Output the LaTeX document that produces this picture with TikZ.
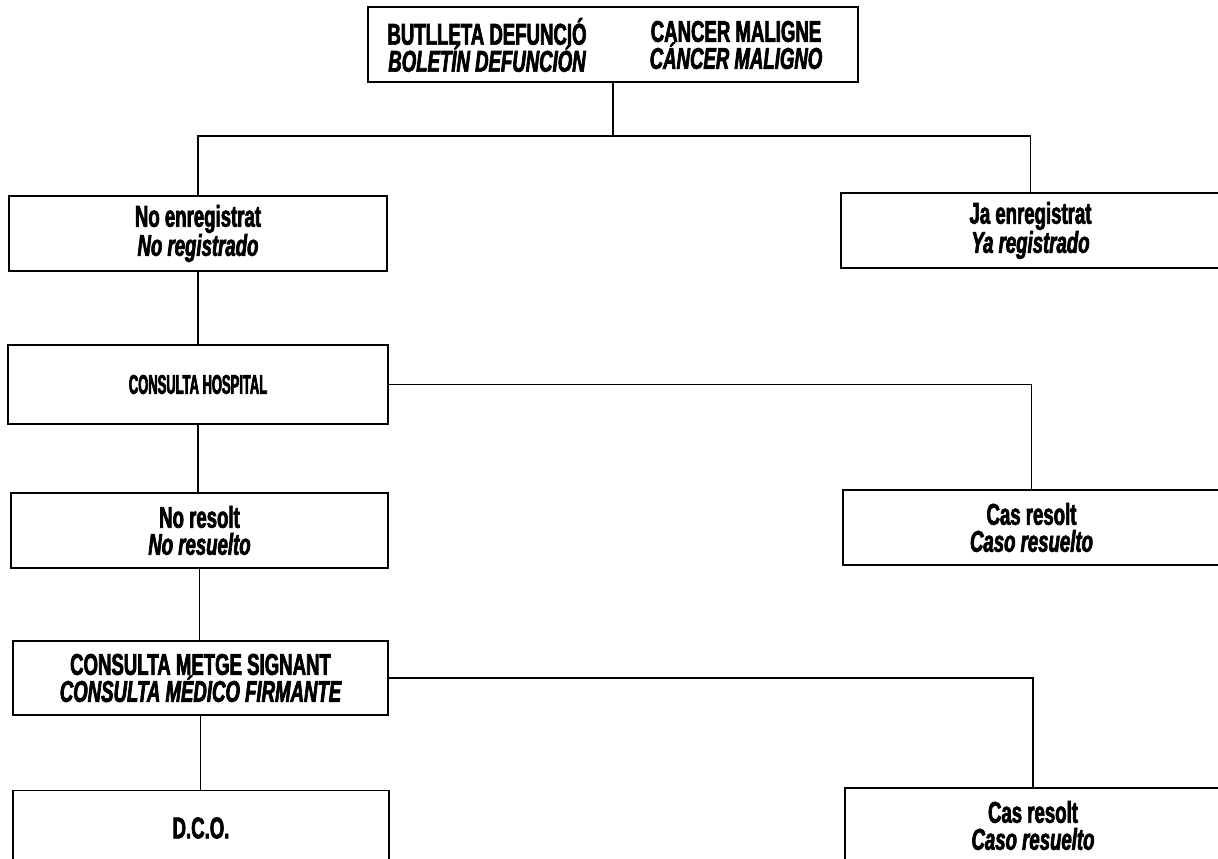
\documentclass[tikz,border=0pt]{standalone}
\usepackage{fontspec}
\newfontfamily\cond{Liberation Sans Bold}[FakeStretch=0.62,FakeBold=2.2,ItalicFont={Liberation Sans Bold Italic}]
\newfontfamily\condx{Liberation Sans Bold}[FakeStretch=0.48,FakeBold=2.4]
\begin{document}
\begin{tikzpicture}[x=1pt,y=-1pt,
  box/.style={draw=black,line width=1.8pt,fill=white,inner sep=0pt},
  lbl/.style={align=center,inner sep=0pt,font=\cond\fontsize{30}{27}\selectfont},
  small/.style={align=center,inner sep=0pt,font=\condx\fontsize{27}{27}\selectfont},
  conn/.style={draw=black,line width=1.8pt}]
\useasboundingbox (0,0) rectangle (1218,859);
\fill[white] (0,0) rectangle (1218,859);
% boxes
\node[box,minimum width=490pt,minimum height=75pt] (top) at (613,44.5) {};
\node[lbl] (t1) at (487,45) {BUTLLETA DEFUNCIÓ\\\itshape BOLETÍN DEFUNCIÓN};
\node[lbl] (t2) at (736,45) {CANCER MALIGNE\\\itshape CÁNCER MALIGNO};
\node[box,lbl,minimum width=378pt,minimum height=75pt] (noreg) at (198,233.5) {No enregistrat\\\itshape No registrado};
\node[box,lbl,minimum width=379pt,minimum height=75pt] (jareg) at (1030.5,230.5) {Ja enregistrat\\\itshape Ya registrado};
\node[box,small,minimum width=380pt,minimum height=79pt] (hosp) at (198,384.5) {CONSULTA HOSPITAL};
\node[box,lbl,minimum width=377pt,minimum height=75pt] (nores) at (199.5,530.5) {No resolt\\\itshape No resuelto};
\node[box,lbl,minimum width=377pt,minimum height=75pt] (cas1) at (1031.5,527.5) {Cas resolt\\\itshape Caso resuelto};
\node[box,lbl,minimum width=375pt,minimum height=74pt] (metge) at (200.5,678) {CONSULTA METGE SIGNANT\\\itshape CONSULTA MÉDICO FIRMANTE};
\node[box,lbl,minimum width=376pt,minimum height=75pt] (cas2) at (1033,825.5) {Cas resolt\\\itshape Caso resuelto};
\node[box,lbl,minimum width=376pt,minimum height=75pt] (dco) at (201,828) {D.C.O.};
% connectors
\coordinate (split) at (614,136);
\draw[conn] (top.south) -- (top.south |- split);
\draw[conn] (noreg.north) |- (split) -| (jareg.north);
\draw[conn] (noreg.south) -- (hosp.north);
\draw[conn] (hosp.east) -| (cas1.north);
\draw[conn] (hosp.south) -- (hosp.south |- nores.north);
\draw[conn] (nores.south) -- (nores.south |- metge.north);
\draw[conn] (metge.east) -| (cas2.north);
\draw[conn] (metge.south) -- (metge.south |- dco.north);
\end{tikzpicture}
\end{document}
